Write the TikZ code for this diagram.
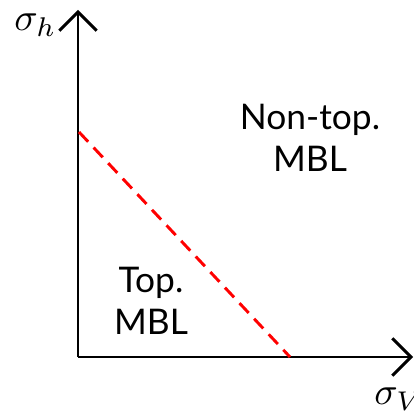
\documentclass[tikz,border=0pt]{standalone}
\usepackage{fontspec}
\setmainfont{Lato}
\usetikzlibrary{arrows.meta}
\begin{document}
\begin{tikzpicture}[x=0.75pt,y=-0.75pt,
  axis/.style={line width=2.2pt,-{Straight Barb[length=14pt,width=28pt,line width=2.2pt]}},
  phase/.style={font=\fontsize{26.5}{31}\selectfont,align=center,inner sep=0pt},
  sym/.style={inner sep=0pt,anchor=west}]
\useasboundingbox (0,0) rectangle (414,413);
\coordinate (O) at (78,357);
\coordinate (Y) at (78,10);
\coordinate (X) at (413,357);
\coordinate (A) at (79,132);
\coordinate (B) at (290,357);
\draw[axis] (O) -- (Y);
\draw[axis] (O) -- (X);
\draw[red,line width=2.2pt,dash pattern=on 10pt off 6pt] (A) -- (B);
\node[sym] (sh) at (14,25) {\scalebox{2.9}{$\sigma_h$}};
\node[sym] (sv) at (374,399) {\scalebox{2.9}{$\sigma_V$}};
\node[phase] (nt) at (310,138) {Non-top.\\MBL};
\node[phase] (t) at (151,301) {Top.\\MBL};
\end{tikzpicture}
\end{document}
